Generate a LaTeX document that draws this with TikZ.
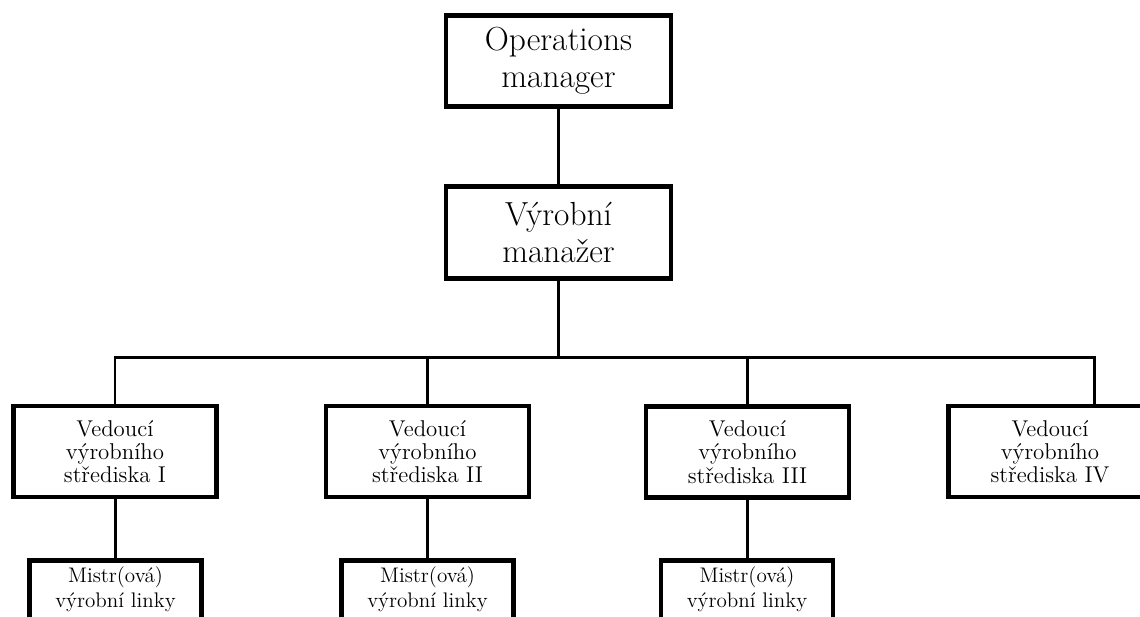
\documentclass[tikz,border=0pt]{standalone}
\usepackage{tikz}
\tikzset{
  bigbox/.style={draw, line width=2.8pt, minimum width=4.5cm, minimum height=1.83cm,
    align=center, font=\fontsize{19}{21}\selectfont},
  unitbox/.style={draw, line width=2.8pt, minimum width=4.06cm, minimum height=1.82cm,
    align=center, font=\fontsize{13}{13.2}\selectfont},
  linebox/.style={draw, line width=2.8pt, minimum width=3.44cm, anchor=north,
    inner ysep=3.5pt, text depth=2cm, align=center, font=\fontsize{12}{14.5}\selectfont},
  link/.style={line width=1.7pt}
}

\begin{document}
\begin{tikzpicture}[x=0.02cm,y=-0.02cm]
\useasboundingbox (0,0) rectangle (1140,616);
\clip (0,0) rectangle (1140,616);

% top of the chart
\node[bigbox] (ops) at (558.5,61) {Operations\\manager};
\node[bigbox] (vm) at (558.5,232.5) {Výrobní\\manažer};

% heads of the units
\node[unitbox] (v1) at (115,451.5) {Vedoucí\\výrobního\\střediska I};
\node[unitbox] (v2) at (427.5,451.5) {Vedoucí\\výrobního\\střediska II};
\node[unitbox] (v3) at (747.5,452) {Vedoucí\\výrobního\\střediska III};
\node[unitbox] (v4) at (1050,451.5) {Vedoucí\\výrobního\\střediska IV};

% line foremen
\node[linebox] (m1) at (115.5,558) {Mistr(ová)\\výrobní linky};
\node[linebox] (m2) at (427.5,558) {Mistr(ová)\\výrobní linky};
\node[linebox] (m3) at (747,558) {Mistr(ová)\\výrobní linky};

\coordinate (bus) at (558.5,357);
\coordinate (b4) at (1094,357);

\draw[link] (ops) -- (vm);
\draw[link] (vm) -- (bus);
\draw[link] (v1.north) |- (b4) -- (b4 |- v4.north);
\foreach \n in {v2,v3}
  \draw[link] (\n.north) -- (\n.north |- bus);
\foreach \n in {1,2,3}
  \draw[link] (m\n.north) -- (m\n.north |- v\n.south);
\end{tikzpicture}
\end{document}
